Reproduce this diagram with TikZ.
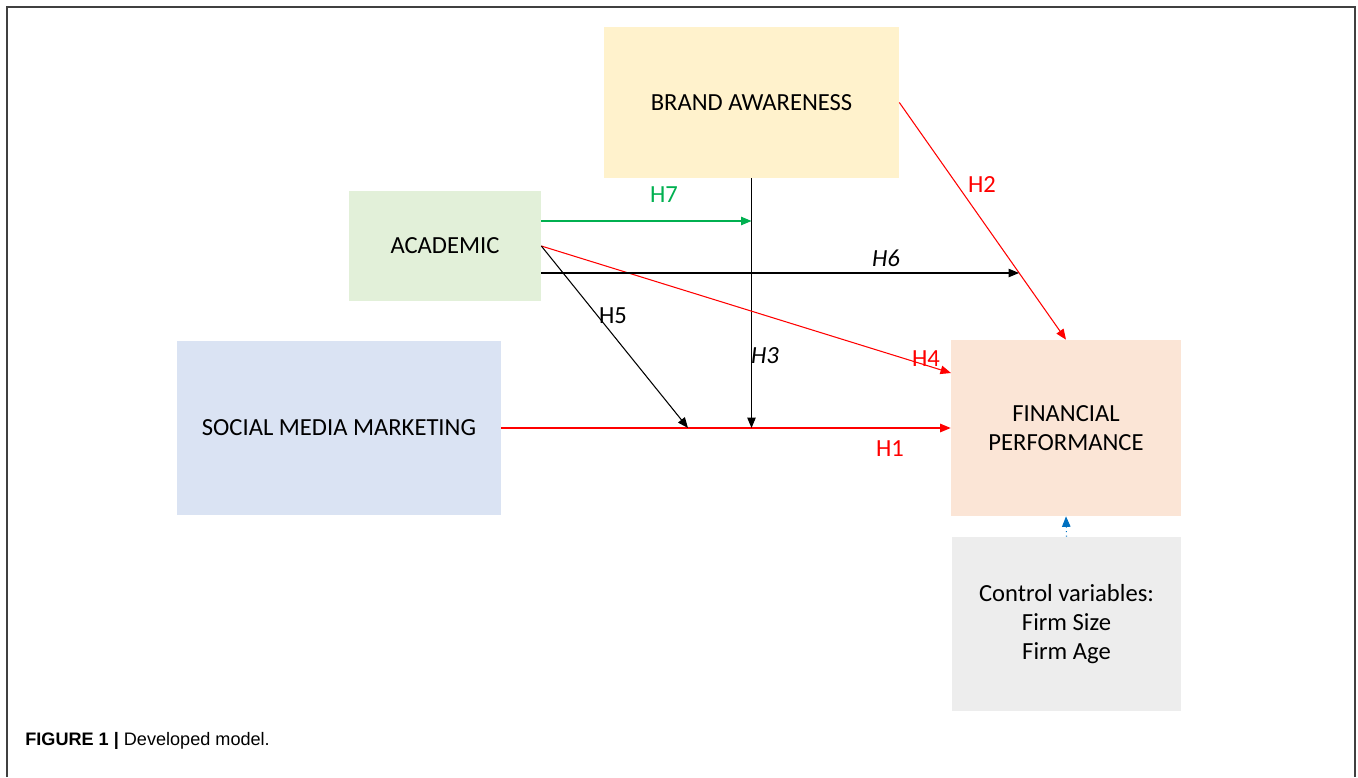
\documentclass[tikz,border=0pt]{standalone}
\usepackage{fontspec}
\setmainfont{Carlito}
\newfontfamily\capfont{Liberation Sans}
\usetikzlibrary{arrows.meta}

\definecolor{brandbg}{HTML}{FFF2CC}
\definecolor{acadbg}{HTML}{E2F0D9}
\definecolor{smmbg}{HTML}{DAE3F3}
\definecolor{finbg}{HTML}{FBE5D6}
\definecolor{ctrlbg}{HTML}{EDEDED}
\definecolor{hred}{HTML}{FF0000}
\definecolor{hgreen}{HTML}{00B050}
\definecolor{hblue}{HTML}{0070C0}

\begin{document}
\begin{tikzpicture}[x=0.02cm, y=-0.02cm,
    main/.style = {rectangle, draw=none, inner sep=0pt, align=center,
                   font=\fontsize{14}{16.5}\selectfont},
    lab/.style = {inner sep=0pt, font=\fontsize{14}{16.5}\selectfont},
    tip/.style = {-{Triangle[length=2.1mm, width=1.7mm]}, line width=0.6pt}]
    \useasboundingbox (0,0) rectangle (1358,777);
    \draw[line width=1pt, black!75] (7,777) -- (7,7) -- (1355,7) -- (1355,777);

    \node[main, fill=brandbg, minimum width=5.9cm, minimum height=3.02cm] (1) at (751.5,102.5) {BRAND AWARENESS};
    \node[main, fill=acadbg, minimum width=3.84cm, minimum height=2.2cm] (2) at (445,246) {ACADEMIC};
    \node[main, fill=smmbg, minimum width=6.48cm, minimum height=3.48cm] (3) at (339,428) {SOCIAL MEDIA MARKETING};
    \node[main, fill=finbg, minimum width=4.6cm, minimum height=3.52cm] (4) at (1066,428) {FINANCIAL\\PERFORMANCE};
    \node[main, fill=ctrlbg, minimum width=4.58cm, minimum height=3.48cm] (5) at (1066.5,624) {Control variables:\\Firm Size\\Firm Age};

    \coordinate (h7) at (541,221);
    \coordinate (h6) at (541,273);
    \coordinate (j5) at (688,428);
    \coordinate (j3) at (1.south |- 3.east);
    \coordinate (j7) at (1.south |- h7);
    \coordinate (j6) at (1019,273);
    \coordinate (e4) at (951,373);

    \draw[tip, hred] (3) -- (4);
    \draw[tip, hred] (1.east) -- (4.north);
    \draw[tip] (1.south) -- (j3);
    \draw[tip, hred] (2.east) -- (e4);
    \draw[tip] (2.east) -- (j5);
    \draw[tip] (h6) -- (j6);
    \draw[tip, hgreen] (h7) -- (j7);
    \draw[tip, hblue, dotted] (5.north) -- (4.south);

    \node[lab, hred] (l1) at (890,449) {H1};
    \node[lab, hred] (l2) at (982,185) {H2};
    \node[lab] (l3) at (765,356) {\itshape H3};
    \node[lab, hred] (l4) at (926,359) {H4};
    \node[lab] (l5) at (613,316) {H5};
    \node[lab] (l6) at (886,258) {\itshape H6};
    \node[lab, hgreen] (l7) at (664,195) {H7};

    \node[anchor=base west, inner sep=0pt, font=\capfont\fontsize{10.3}{12}\selectfont] (cap) at (25,745) {\textbf{FIGURE 1 |} Developed model.};
\end{tikzpicture}
\end{document}
